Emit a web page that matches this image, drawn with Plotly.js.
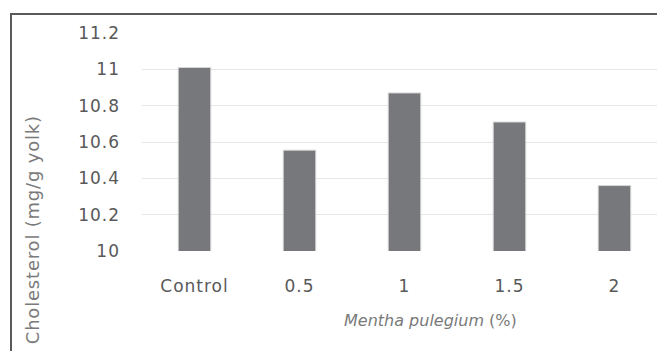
<!DOCTYPE html>
<html>
<head>
<meta charset="utf-8">
<script src="https://cdn.plot.ly/plotly-3.0.1.min.js"></script>
<style>
html,body{margin:0;padding:0;overflow:hidden;background:#fff;}
#chart{width:657px;height:351px;position:relative;}
#frame{position:absolute;left:10px;top:13px;width:700px;height:400px;border-left:2px solid #5a5a5a;border-top:2px solid #5a5a5a;pointer-events:none;}
.xtick text, .ytick text{letter-spacing:1px;}
.annotation[data-index="0"] text{letter-spacing:0.8px;}
</style>
</head>
<body>
<div id="chart"></div>
<div id="frame"></div>
<script>
const categories = ["Control", "0.5", "1", "1.5", "2"];
const cholesterol = [11.01, 10.555, 10.87, 10.71, 10.36];
const yTicks = [10, 10.2, 10.4, 10.6, 10.8, 11, 11.2];
const yTickText = ["10", "10.2", "10.4", "10.6", "10.8", "11", "11.2"];

const fontFam = "DejaVu Sans, sans-serif";

const data = [{
  type: "bar",
  x: categories,
  y: cholesterol,
  marker: {color: "#77787c", line: {color: "#d6d6d6", width: 1}},
  hoverinfo: "none"
}];

const layout = {
  width: 657,
  height: 351,
  margin: {l: 142, r: 0, t: 33, b: 100, pad: 0},
  paper_bgcolor: "#fff",
  plot_bgcolor: "#fff",
  showlegend: false,
  bargap: 0.69,
  xaxis: {
    type: "category",
    range: [-0.5, 4.405],
    showgrid: false,
    zeroline: false,
    showline: false,
    ticks: "",
    ticklabelstandoff: 23,
    tickfont: {family: fontFam, size: 17, color: "#595959"}
  },
  yaxis: {
    range: [10, 11.2],
    tickvals: yTicks,
    ticktext: yTickText,
    showgrid: true,
    gridcolor: "#e6e6e6",
    gridwidth: 1,
    zeroline: false,
    showline: false,
    ticks: "",
    ticklabelstandoff: 21,
    tickfont: {family: fontFam, size: 17, color: "#595959"}
  },
  annotations: [
    {
      xref: "paper", yref: "paper", x: 0, y: 0,
      xshift: -110, yshift: 21,
      xanchor: "center", yanchor: "middle",
      textangle: -90, showarrow: false,
      text: "Cholesterol (mg/g yolk)",
      font: {family: fontFam, size: 18, color: "#7a7a7a"}
    },
    {
      xref: "paper", yref: "paper", x: 0, y: 0,
      xshift: 430 - 142, yshift: -(320 - 251),
      xanchor: "center", yanchor: "middle",
      showarrow: false,
      text: "<i>Mentha pulegium</i> (%)",
      font: {family: fontFam, size: 16, color: "#7a7a7a"}
    }
  ]
};

Plotly.newPlot("chart", data, layout, {staticPlot: true, displayModeBar: false});
</script>
</body>
</html>
